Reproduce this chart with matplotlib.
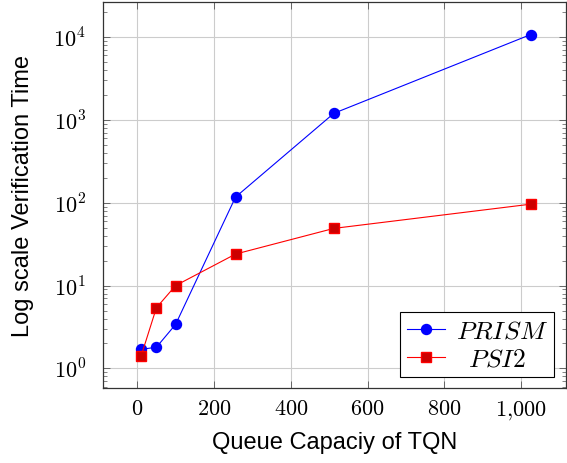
import math
import matplotlib
matplotlib.use('Agg')
import matplotlib.pyplot as plt
from matplotlib.ticker import FuncFormatter, LogLocator, NullFormatter

plt.rcParams['mathtext.fontset'] = 'cm'
plt.rcParams['font.family'] = ['Liberation Sans', 'DejaVu Sans']

# queue capacity values
capacity = [10, 50, 100, 256, 512, 1024]
# verification times
prism_time = [1.7, 1.8, 3.4, 117, 1200, 10700]
psi2_time = [1.4, 5.4, 10, 24, 49, 96]

x_ticks = [0, 200, 400, 600, 800, 1000]

fig = plt.figure(figsize=(5.67, 4.64), dpi=100)
ax = fig.add_axes([0.181, 0.161, 0.817, 0.832])

ax.plot(capacity, prism_time, color='blue', linewidth=0.8, marker='o',
        markersize=7.2, markerfacecolor='blue', markeredgecolor='blue', label='$PRISM$', zorder=3)
ax.plot(capacity, psi2_time, color='red', linewidth=0.8, marker='s',
        markersize=7, markerfacecolor='#cc0000', markeredgecolor='red', label=r'$\;\;PSI2$', zorder=3)

ax.set_yscale('log')
ax.set_xlim(-90, 1116)
ax.set_ylim(10 ** -0.24, 10 ** 4.42)

ax.set_xticks(x_ticks)
ax.xaxis.set_major_formatter(FuncFormatter(
    lambda v, p: '$' + f'{int(v):,}'.replace(',', '{,}') + '$'))
ax.yaxis.set_major_locator(LogLocator(base=10, numticks=10))
ax.yaxis.set_minor_locator(LogLocator(base=10, subs=range(2, 10), numticks=10))
ax.yaxis.set_minor_formatter(NullFormatter())
ax.yaxis.set_major_formatter(FuncFormatter(lambda v, p: r'$10^{%d}$' % round(math.log10(v))))

ax.tick_params(axis='both', which='both', direction='in', top=True, right=True, labelsize=16)
ax.tick_params(which='major', length=5, width=0.6, color='#555555')
ax.tick_params(which='minor', length=3, width=0.5, color='#555555')
ax.tick_params(axis='x', pad=7)
ax.tick_params(axis='y', pad=12)

ax.grid(True, which='major', color='#cccccc', linewidth=0.8)
ax.set_axisbelow(True)
for s in ax.spines.values():
    s.set_linewidth(0.9)
    s.set_color('#333333')

ax.set_xlabel('Queue Capaciy of TQN', fontsize=17, labelpad=7)
ax.set_ylabel('Log scale Verification Time', fontsize=17, labelpad=14)

leg = ax.legend(loc='lower right', fontsize=18.5, fancybox=False, edgecolor='black',
                framealpha=1, borderpad=0.25, handlelength=1.5, handletextpad=0.4,
                labelspacing=0.15, borderaxespad=0, bbox_to_anchor=(0.974, 0.029))
leg.get_frame().set_linewidth(0.8)

plt.savefig('out.png', dpi=100)
plt.close()
